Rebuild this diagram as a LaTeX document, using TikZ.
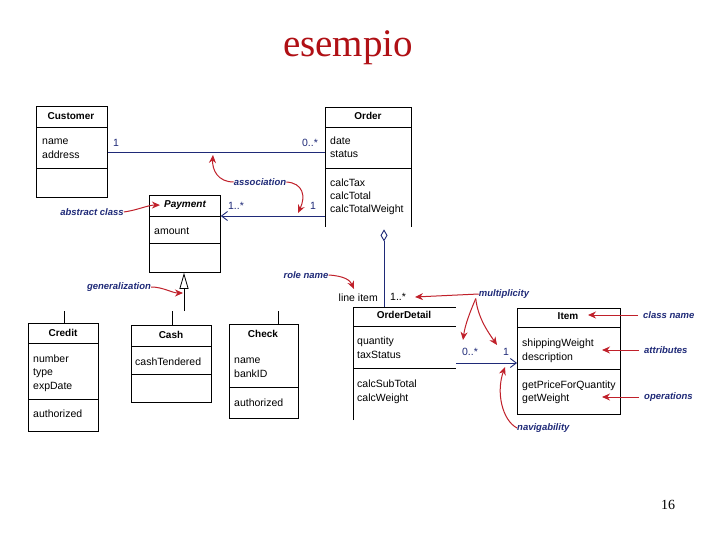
\documentclass[tikz,border=0pt]{standalone}
\usepackage{fontspec}
\setmainfont{Liberation Sans}
\newfontfamily\serfam{Liberation Serif}
\usetikzlibrary{arrows.meta}
\definecolor{navy}{HTML}{1F2A78}
\definecolor{annred}{HTML}{C0202A}
\definecolor{titlered}{HTML}{B01015}
\begin{document}
\begin{tikzpicture}[x=1pt,y=-1pt,
  boxline/.style={draw=black, line width=0.8pt},
  box/.style={boxline, anchor=north west, inner sep=0pt},
  ghost/.style={anchor=north west, inner sep=0pt},
  hdr/.style={font=\fontsize{10}{12}\selectfont\bfseries, anchor=base, inner sep=0pt},
  txt/.style={font=\fontsize{10.5}{12}\selectfont, anchor=base west, inner sep=0pt},
  mult/.style={font=\fontsize{10.5}{12}\selectfont, text=navy, inner sep=0pt},
  ann/.style={font=\fontsize{9.5}{11}\selectfont\bfseries\itshape, text=navy, inner sep=0pt},
  assoc/.style={draw=navy, line width=0.9pt},
  opentip/.style={-{Straight Barb[length=6pt,width=9pt,line width=0.9pt]}},
  annarrow/.style={draw=annred, line width=1pt, -{Stealth[length=8pt,width=7pt]}}
]
\useasboundingbox (0,0) rectangle (720,540);
\fill[white] (0,0) rectangle (720,540);

% title and page number
\node[font=\serfam\fontsize{39}{40}\selectfont, text=titlered, anchor=base, inner sep=0pt] (title) at (348,57) {esempio};
\node[font=\serfam\fontsize{14}{16}\selectfont, anchor=base, inner sep=0pt] (pagenum) at (668,509) {16};

% Customer
\node[box, minimum width=71pt, minimum height=91pt] (cust) at (36,106) {};
\draw[boxline] (36,127) -- (107,127) (36,168) -- (107,168);
\node[hdr] (custh) at (71,119.5) {Customer};
\node[txt] (custa1) at (42,145) {name};
\node[txt] (custa2) at (42,159) {address};

% Order (excerpt, open at bottom)
\draw[boxline] (325,227) |- (411,107) -- (411,227);
\draw[boxline] (325,127) -- (411,127) (325,168) -- (411,168);
\node[ghost, minimum width=86pt, minimum height=122pt] (order) at (325,107) {};
\node[hdr] (orderh) at (368,119.5) {Order};
\node[txt] (ordera1) at (330,145) {date};
\node[txt] (ordera2) at (330,158) {status};
\node[txt] (ordero1) at (330,187) {calcTax};
\node[txt] (ordero2) at (330,200) {calcTotal};
\node[txt] (ordero3) at (330,213) {calcTotalWeight};

% Payment
\node[box, minimum width=71pt, minimum height=77pt] (pay) at (149,195) {};
\draw[boxline] (149,216) -- (220,216) (149,243) -- (220,243);
\node[hdr, font=\fontsize{10}{12}\selectfont\bfseries\itshape] (payh) at (185,207.5) {Payment};
\node[txt] (paya1) at (154,234) {amount};

% Credit
\node[box, minimum width=70pt, minimum height=108pt] (credit) at (28,323) {};
\draw[boxline] (28,343) -- (98,343) (28,399) -- (98,399);
\node[hdr] (credith) at (63,336) {Credit};
\node[txt] (credita1) at (33,362) {number};
\node[txt] (credita2) at (33,375.5) {type};
\node[txt] (credita3) at (33,389) {expDate};
\node[txt] (credito1) at (33,417) {authorized};

% Cash
\node[box, minimum width=80pt, minimum height=77pt] (cash) at (131,325) {};
\draw[boxline] (131,346) -- (211,346) (131,374) -- (211,374);
\node[hdr] (cashh) at (171,338) {Cash};
\node[txt] (casha1) at (135,365) {cashTendered};

% Check
\node[box, minimum width=69pt, minimum height=94pt] (check) at (229,324) {};
\draw[boxline] (229,387) -- (298,387);
\node[hdr] (checkh) at (263,337.5) {Check};
\node[txt] (checka1) at (234,363) {name};
\node[txt] (checka2) at (234,377) {bankID};
\node[txt] (checko1) at (234,406) {authorized};

% OrderDetail (excerpt, open at right and bottom)
\draw[boxline] (353,420) |- (456,307);
\draw[boxline] (353,326) -- (456,326) (353,368) -- (456,368);
\node[ghost, minimum width=103pt, minimum height=113pt] (od) at (353,307) {};
\node[hdr] (odh) at (404,318) {OrderDetail};
\node[txt] (oda1) at (357,344) {quantity};
\node[txt] (oda2) at (357,358) {taxStatus};
\node[txt] (odo1) at (357,387) {calcSubTotal};
\node[txt] (odo2) at (357,401) {calcWeight};

% Item
\node[box, minimum width=103pt, minimum height=106pt] (item) at (517,308) {};
\draw[boxline] (517,327) -- (620,327) (517,369) -- (620,369);
\node[hdr] (itemh) at (568,319) {Item};
\node[txt] (itema1) at (522,346) {shippingWeight};
\node[txt] (itema2) at (522,360) {description};
\node[txt] (itemo1) at (522,388) {getPriceForQuantity};
\node[txt] (itemo2) at (522,401) {getWeight};

% associations
\coordinate (l1) at (0,152);
\draw[assoc] (cust.east |- l1) -- (order.west |- l1);
\coordinate (l2) at (0,216);
\draw[assoc, opentip] (order.west |- l2) -- (pay.east |- l2);
\coordinate (l3) at (0,363);
\draw[assoc, opentip] (od.east |- l3) -- (item.west |- l3);
\coordinate (dx) at (384,0);
\draw[line width=0.9pt, navy, -{Diamond[open,length=12pt,width=7pt,line width=0.9pt]}] (od.north -| dx) -- (order.south -| dx);

% generalization
\coordinate (g) at (184,311);
\draw[line width=0.8pt, -{Triangle[open,length=16pt,width=9pt,line width=0.8pt]}] (g) -- (pay.south -| g);
\coordinate (s1) at (64,311);
\coordinate (s2) at (172,311);
\coordinate (s3) at (278,311);
\draw[line width=0.8pt] (s1) -- (credit.north -| s1);
\draw[line width=0.8pt] (s2) -- (cash.north -| s2);
\draw[line width=0.8pt] (s3) -- (check.north -| s3);

% multiplicities
\node[mult] (m1) at (116,143) {1};
\node[mult] (m2) at (310,143) {0..*};
\node[mult] (m3) at (236,206) {1..*};
\node[mult] (m4) at (313,206) {1};
\node[mult] (m5) at (470,352) {0..*};
\node[mult] (m6) at (506,352) {1};
\node[txt, anchor=base east] (li) at (378,301) {line item};
\node[txt] (m7) at (390,300) {1..*};

% annotations
\node[ann] (abs) at (92,212) {abstract class};
\draw[annarrow] (abs.east) .. controls (138,210) and (148,205) .. ([xshift=-4pt]payh.west);

\node[ann] (asc) at (260,182) {association};
\coordinate (a1) at (213,155);
\coordinate (a2) at (298,213);
\draw[annarrow] (asc.west) .. controls (218,182) and (212,170) .. (a1);
\draw[annarrow] (asc.east) .. controls (303,183) and (306,196) .. (a2);

\node[ann] (gen) at (119,287) {generalization};
\draw[annarrow] (gen.east) .. controls (163,287) and (172,293) .. (183,293);

\node[ann] (role) at (306,275) {role name};
\draw[annarrow] (role.east) .. controls (344,276) and (350,280) .. (354,289);

\node[ann] (mul) at (504,294) {multiplicity};
\coordinate (mt1) at (415,297);
\coordinate (mt2) at (463,340);
\coordinate (mt3) at (497,345);
\draw[annarrow] (mul.west) -- (mt1);
\draw[annarrow] ([xshift=-3pt]mul.south west) .. controls (470,312) and (465,325) .. (mt2);
\draw[annarrow] ([xshift=-3pt]mul.south west) .. controls (478,318) and (488,332) .. (mt3);

\node[ann, anchor=west] (nav) at (517,428) {navigability};
\coordinate (nt) at (505,367);
\draw[annarrow] (nav.west) .. controls (502,420) and (496,392) .. (nt);

\node[ann, anchor=west] (cn) at (643,315) {class name};
\node[ann, anchor=west] (at) at (644,350) {attributes};
\node[ann, anchor=west] (op) at (644,397) {operations};
\draw[annarrow] ([xshift=-5pt]cn.west) -- (588,315);
\draw[annarrow] ([xshift=-5pt]at.west) -- (602,350);
\draw[annarrow] ([xshift=-5pt]op.west) -- (602,397);
\end{tikzpicture}
\end{document}
